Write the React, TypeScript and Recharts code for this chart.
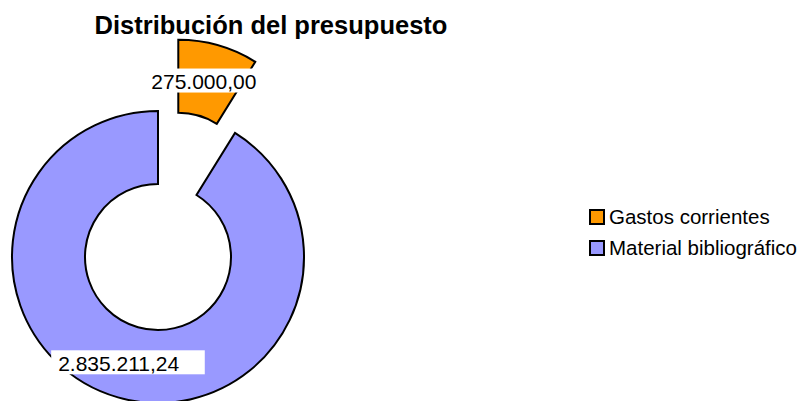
import { Cell, Legend, Pie, PieChart } from 'recharts'

const CATEGORIES = ['Gastos corrientes', 'Material bibliográfico']
const VALUES = [275000, 2835211.24]
const COLORS = ['#FF9900', '#9999FF']
const TITLE = 'Distribución del presupuesto'

const FONT = '"Liberation Sans", Arial, sans-serif'
const CX = 158
const CY = 257
const INNER = 73
const OUTER = 146
const EXPLODE = 74
const RADIAN = Math.PI / 180

const data = CATEGORIES.map((name, i) => ({ name, value: VALUES[i] }))

// offset of the exploded first slice, along its bisector
const total = VALUES.reduce((a, b) => a + b, 0)
const half = ((VALUES[0] / total) * 360) / 2
const dx = EXPLODE * Math.sin(half * RADIAN)
const dy = -EXPLODE * Math.cos(half * RADIAN)

function formatEs(v: number) {
  const [int, dec] = v.toFixed(2).split('.')
  return int.replace(/\B(?=(\d{3})+(?!\d))/g, '.') + ',' + dec
}

function makeLabel(only: number) {
  return (props: any) => {
    const { cx, cy, midAngle, innerRadius, outerRadius, index, value } = props
    if (index !== only) return null
    const r = (innerRadius + outerRadius) / 2
    const x = cx + r * Math.cos(-midAngle * RADIAN)
    const y = cy + r * Math.sin(-midAngle * RADIAN)
    const text = formatEs(value)
    const w = text.length * 12.8
    return (
      <g>
        <rect x={x - w / 2} y={y - 12} width={w} height={24} fill="#fff" />
        <text
          x={x - w / 2 + 7}
          y={y + 1}
          dominantBaseline="central"
          fontFamily={FONT}
          fontSize={21}
          fill="#000"
        >
          {text}
        </text>
      </g>
    )
  }
}

function LegendContent() {
  return (
    <div style={{ fontFamily: FONT, fontSize: 20.5, color: '#000', whiteSpace: 'nowrap' }}>
      {CATEGORIES.map((name, i) => (
        <div key={name} style={{ display: 'flex', alignItems: 'center', height: 31 }}>
          <span
            style={{
              display: 'inline-block',
              flex: 'none',
              width: 12,
              height: 12,
              background: COLORS[i],
              border: '2px solid #000',
              marginRight: 4,
            }}
          />
          <span>{name}</span>
        </div>
      ))}
    </div>
  )
}

export default function App() {
  return (
    <div style={{ position: 'absolute', left: 0, top: 0, width: 800, height: 401, background: '#fff' }}>
      <div
        style={{
          position: 'absolute',
          left: 0,
          width: 542,
          top: 11,
          textAlign: 'center',
          fontFamily: FONT,
          fontWeight: 'bold',
          fontSize: 25.5,
          color: '#000',
        }}
      >
        {TITLE}
      </div>
      <PieChart width={800} height={401} margin={{ top: 0, right: 0, bottom: 0, left: 0 }}>
        <Pie
          data={data}
          dataKey="value"
          nameKey="name"
          cx={CX}
          cy={CY}
          innerRadius={INNER}
          outerRadius={OUTER}
          startAngle={90}
          endAngle={-270}
          stroke="#000"
          strokeWidth={2}
          label={makeLabel(1)}
          labelLine={false}
          isAnimationActive={false}
        >
          {data.map((d, i) => (
            <Cell
              key={d.name}
              fill={i === 1 ? COLORS[i] : 'none'}
              stroke={i === 1 ? '#000' : 'none'}
            />
          ))}
        </Pie>
        <Pie
          data={data}
          dataKey="value"
          nameKey="name"
          cx={CX + dx}
          cy={CY + dy}
          innerRadius={INNER}
          outerRadius={OUTER}
          startAngle={90}
          endAngle={-270}
          stroke="#000"
          strokeWidth={2}
          label={makeLabel(0)}
          labelLine={false}
          isAnimationActive={false}
        >
          {data.map((d, i) => (
            <Cell
              key={d.name}
              fill={i === 0 ? COLORS[i] : 'none'}
              stroke={i === 0 ? '#000' : 'none'}
            />
          ))}
        </Pie>
        <Legend
          layout="vertical"
          content={<LegendContent />}
          wrapperStyle={{ position: 'absolute', left: 589, top: 201, width: 211 }}
        />
      </PieChart>
    </div>
  )
}
